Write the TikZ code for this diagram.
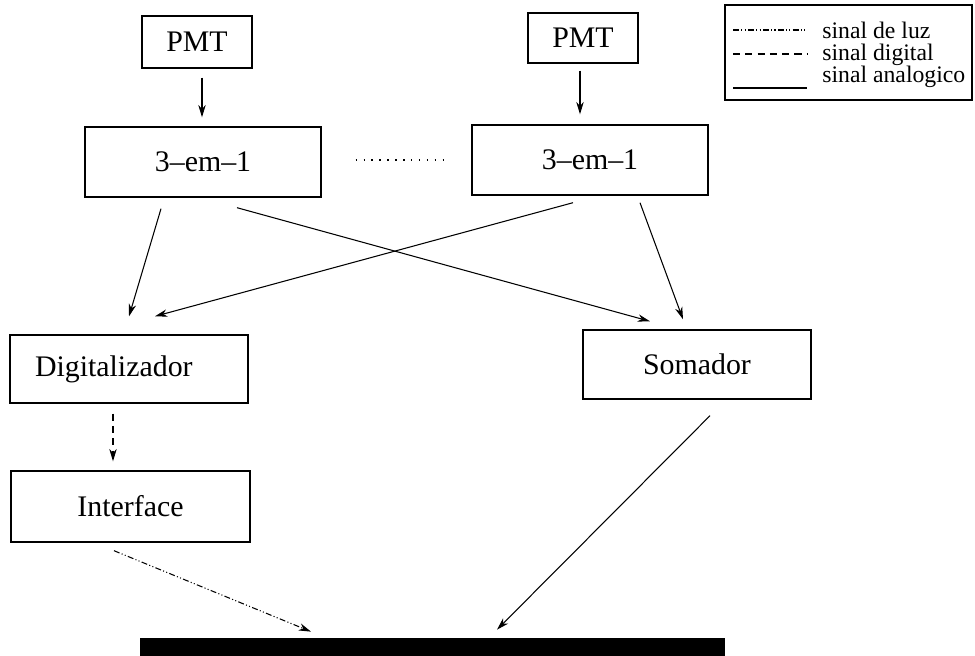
\documentclass[tikz,border=0pt]{standalone}
\usepackage{fontspec}
\setmainfont{Liberation Serif}
\usepackage{tikz}
\usetikzlibrary{positioning, calc, arrows.meta}
\tikzset{>={Stealth[length=7pt, width=4.2pt, inset=2.2pt]}}

\begin{document}
\begin{tikzpicture}
    [x=0.02cm, y=-0.02cm,
     box/.style={draw, line width=0.8pt, inner sep=0pt, font=\fontsize{17}{20}\selectfont},
     sig/.style={line width=0.6pt},
     luz/.style={sig, dash pattern=on 3.4pt off 1.3pt on 0.6pt off 1.3pt on 0.6pt off 1.3pt},
     digital/.style={sig, dash pattern=on 4pt off 3pt}]

    \useasboundingbox (0,0) rectangle (975,656);

    \node[box, minimum width=2.2cm, minimum height=1.04cm] (pmtA) at (197,42) {PMT};
    \node[box, minimum width=2.2cm, minimum height=1.0cm] (pmtB) at (583,38) {PMT};

    \node[box, minimum width=4.72cm, minimum height=1.4cm] (triA) at (203,162) {3--em--1};
    \node[box, minimum width=4.72cm, minimum height=1.4cm] (triB) at (590,160) {3--em--1};

    \node[box, text width=3.76cm, inner xsep=0.5cm, minimum height=1.36cm, align=left] (dig) at (129,369) {Digitalizador};
    \node[box, minimum width=4.56cm, minimum height=1.38cm] (som) at (697,364.5) {Somador};
    \node[box, minimum width=4.78cm, minimum height=1.42cm] (intf) at (130.5,506.5) {Interface};

    \node[fill=black, inner sep=0pt, minimum width=11.7cm, minimum height=0.36cm] (bar) at (432.5,647) {};

    % legenda
    \node[draw, line width=0.8pt, minimum width=4.94cm, minimum height=1.9cm] (legend) at (848.5,52.5) {};
    \node[anchor=north west, inner sep=0pt, align=left,
          font=\fontsize{13.5}{12.47}\selectfont,
          execute at begin node={\setlength{\lineskiplimit}{-20pt}}] (legtxt) at (822,21.7)
         {sinal de luz\\sinal digital\\sinal analogico};
    \draw[luz] ($(legtxt.north west)+(-89,8.3)$) -- ($(legtxt.north west)+(-15,8.3)$);
    \draw[digital] ($(legtxt.north west)+(-89,32.3)$) -- ($(legtxt.north west)+(-15,32.3)$);
    \draw[sig] ($(legtxt.north west)+(-89,66.3)$) -- ($(legtxt.north west)+(-15,66.3)$);

    \draw[sig, ->] ($(pmtA.south)+(5,9)$) -- ($(triA.north)+(-1,-9)$);
    \draw[sig, ->] ($(pmtB.south)+(-3,7)$) -- ($(triB.north)+(-10,-10)$);
    \draw[sig, dash pattern=on 0.8pt off 3.7pt] ($(triA.east)+(34,-2)$) -- ($(triB.west)+(-27,0)$);

    \draw[sig, ->] ($(triA.south)+(-42,11)$) -- ($(dig.north)+(0,-18)$);
    \draw[sig, ->] ($(triA.south)+(34,10)$) -- ($(som.north)+(-47,-8)$);
    \draw[sig, ->] ($(triB.south)+(-17,7)$) -- ($(dig.north)+(26,-18)$);
    \draw[sig, ->] ($(triB.south)+(50,7)$) -- ($(som.north)+(-14,-10)$);

    \draw[digital, ->] ($(dig.south)+(-16,10)$) -- ($(intf.north)+(-17.5,-9)$);
    \draw[luz, ->] ($(intf.south)+(-16.5,8)$) -- ($(bar.north)+(-121.5,-6)$);
    \draw[sig, ->] ($(som.south)+(13,16)$) -- ($(bar.north)+(64.5,-8)$);
\end{tikzpicture}
\end{document}
